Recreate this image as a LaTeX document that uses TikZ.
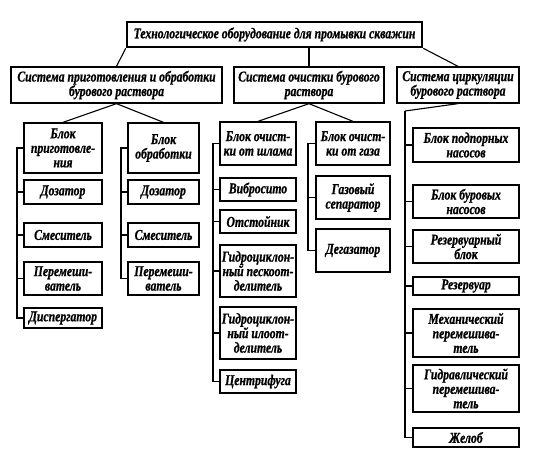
\documentclass[tikz,border=0pt]{standalone}
\usepackage{fontspec}
\setmainfont[FakeStretch=0.78, BoldItalicFeatures={FakeBold=0.8}]{Liberation Serif}
\begin{document}
\begin{tikzpicture}[x=1pt,y=-1pt,
  bx/.style={draw, line width=1.3pt, rectangle, inner sep=0pt, align=center,
    font=\fontsize{15}{14.5}\selectfont\bfseries\itshape},
  ln/.style={line width=1.1pt}]
\useasboundingbox (0,0) rectangle (553,463);
% level 0 and 1
\node[bx, line width=2.6pt, minimum width=295pt, minimum height=25pt] (top) at (274.5,34.5) {Технологическое оборудование для промывки скважин};
\node[bx, minimum width=211pt, minimum height=36pt] (b1) at (116.5,85) {Система приготовления и обработки\\бурового раствора};
\node[bx, minimum width=150pt, minimum height=36pt] (b2) at (309,85) {Система очистки бурового\\раствора};
\node[bx, minimum width=122pt, minimum height=36pt] (b3) at (458,85) {Система циркуляции\\бурового раствора};
% column A
\node[bx, minimum width=78pt, minimum height=50pt] (a0) at (63,148) {Блок\\приготовле-\\ния};
\node[bx, minimum width=78pt, minimum height=24pt] (a1) at (63,192) {Дозатор};
\node[bx, minimum width=78pt, minimum height=24pt] (a2) at (63,235) {Смеситель};
\node[bx, minimum width=78pt, minimum height=33pt] (a3) at (63,278.5) {Перемеши-\\ватель};
\node[bx, minimum width=78pt, minimum height=20pt] (a4) at (63,318) {Диспергатор};
% column B
\node[bx, minimum width=71pt, minimum height=50pt] (c0) at (163.5,148) {Блок\\обработки};
\node[bx, minimum width=71pt, minimum height=24pt] (c1) at (163.5,192) {Дозатор};
\node[bx, minimum width=71pt, minimum height=24pt] (c2) at (163.5,235) {Смеситель};
\node[bx, minimum width=71pt, minimum height=33pt] (c3) at (163.5,278.5) {Перемеши-\\ватель};
% column M1
\node[bx, minimum width=76pt, minimum height=43pt] (m0) at (258,143.5) {Блок очист-\\ки от шлама};
\node[bx, minimum width=76pt, minimum height=23pt] (m1) at (258,189.5) {Вибросито};
\node[bx, minimum width=76pt, minimum height=23pt] (m2) at (258,221.5) {Отстойник};
\node[bx, minimum width=76pt, minimum height=52pt] (m3) at (258,271) {Гидроциклон-\\ный пескоот-\\делитель};
\node[bx, minimum width=76pt, minimum height=52pt] (m4) at (258,333) {Гидроциклон-\\ный илоот-\\делитель};
\node[bx, minimum width=76pt, minimum height=23pt] (m5) at (258,381.5) {Центрифуга};
% column M2
\node[bx, minimum width=74pt, minimum height=43pt] (g0) at (353,143.5) {Блок очист-\\ки от газа};
\node[bx, minimum width=74pt, minimum height=43pt] (g1) at (353,197.5) {Газовый\\сепаратор};
\node[bx, minimum width=74pt, minimum height=43pt] (g2) at (353,250.5) {Дегазатор};
% column R
\node[bx, minimum width=106pt, minimum height=34pt] (r1) at (466,145) {Блок подпорных\\насосов};
\node[bx, minimum width=106pt, minimum height=33pt] (r2) at (466,201.5) {Блок буровых\\насосов};
\node[bx, minimum width=106pt, minimum height=33pt] (r3) at (466,246.5) {Резервуарный\\блок};
\node[bx, minimum width=106pt, minimum height=18pt] (r4) at (466,286) {Резервуар};
\node[bx, minimum width=106pt, minimum height=48pt] (r5) at (466,333) {Механический\\перемешива-\\тель};
\node[bx, minimum width=106pt, minimum height=47pt] (r6) at (466,388.5) {Гидравлический\\перемешива-\\тель};
\node[bx, minimum width=106pt, minimum height=19pt] (r7) at (466,437.5) {Желоб};
% bracket coordinates
\coordinate (xa) at (17,0);
\coordinate (xc) at (121,0);
\coordinate (xm) at (213,0);
\coordinate (xg) at (308,0);
\coordinate (xr) at (405,111);
% connectors top
\draw[ln] (top.south west) -- (b1.north);
\draw[ln] (b2.north |- top.south) -- (b2.north);
\draw[ln] (top.south east) -- (b3.north);
\draw[ln] (b1.south) -- (a0.north);
\draw[ln] (b1.south) -- (c0.north);
\draw[ln] (b2.south) -- (m0.north);
\draw[ln] (b2.south) -- (g0.north);
\draw[ln] (b3.south) -- (xr);
% brackets
\draw[ln] (a0.west) -- (a0.west -| xa) -- (a4.west -| xa) -- (a4.west);
\foreach \n in {a1,a2,a3} \draw[ln] (\n.west) -- (\n.west -| xa);
\draw[ln] (c0.west) -- (c0.west -| xc) -- (c3.west -| xc) -- (c3.west);
\foreach \n in {c1,c2} \draw[ln] (\n.west) -- (\n.west -| xc);
\draw[ln] (m0.west) -- (m0.west -| xm) -- (m5.west -| xm) -- (m5.west);
\foreach \n in {m1,m2,m3,m4} \draw[ln] (\n.west) -- (\n.west -| xm);
\draw[ln] (g0.west) -- (g0.west -| xg) -- (g2.west -| xg) -- (g2.west);
\draw[ln] (g1.west) -- (g1.west -| xg);
\draw[ln] (xr) -- (r7.west -| xr) -- (r7.west);
\foreach \n in {r1,r2,r3,r4,r5,r6} \draw[ln] (\n.west) -- (\n.west -| xr);
\end{tikzpicture}
\end{document}
